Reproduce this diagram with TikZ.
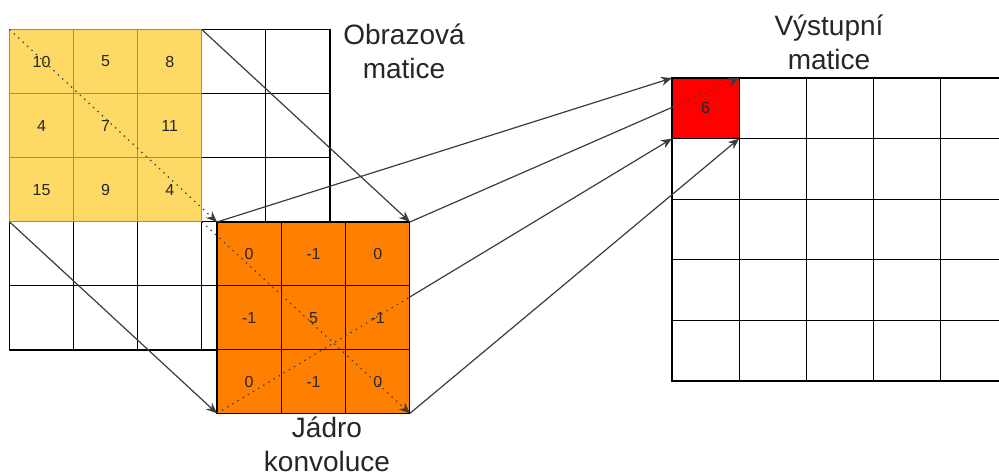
\documentclass[tikz,border=0pt]{standalone}
\usepackage{fontspec}
\setmainfont{Liberation Sans}
\usetikzlibrary{arrows.meta,calc}

\definecolor{cellyellow}{HTML}{FFD966}
\definecolor{yellowedge}{HTML}{A38F4E}
\definecolor{kernelorange}{HTML}{FF8000}
\definecolor{outred}{HTML}{FF0000}
\definecolor{textgray}{HTML}{262626}
\definecolor{linkgray}{HTML}{3C3C3C}

\tikzset{
  imgcell/.style={draw=black, line width=1.1pt, fill=white, inner sep=0pt, outer sep=0pt,
    minimum width=64.1pt, minimum height=64.1pt,
    font=\fontsize{16}{19}\selectfont, text=textgray},
  wincell/.style={imgcell, fill=cellyellow, draw=yellowedge},
  kercell/.style={imgcell, fill=kernelorange, minimum width=64.3pt, minimum height=63.8pt},
  outcell/.style={imgcell, minimum width=67.1pt, minimum height=60.6pt},
  hotcell/.style={outcell, fill=outred},
  caption/.style={font=\fontsize{28}{34}\selectfont, text=textgray, align=center, inner sep=0pt},
  plainlink/.style={draw=linkgray, line width=1.2pt},
  dotplain/.style={plainlink, dash pattern=on 1.4pt off 4.6pt},
  link/.style={plainlink, -{Stealth[length=11pt,width=9pt]}},
  dotlink/.style={link, dash pattern=on 1.4pt off 4.6pt},
}

\begin{document}
\begin{tikzpicture}[x=1pt, y=-1pt]
  \useasboundingbox (0,0) rectangle (999,475);

  % input image: plain cells outside the 3x3 window
  \foreach \r in {1,2,3}
    \foreach \c in {4,5}
      \node[imgcell] (img\r\c) at ({9.5+64.1*(\c-0.5)},{29.5+64.1*(\r-0.5)}) {};
  \foreach \r in {4,5}
    \foreach \c in {1,...,5}
      \node[imgcell] (img\r\c) at ({9.5+64.1*(\c-0.5)},{29.5+64.1*(\r-0.5)}) {};

  % the 3x3 window under the kernel
  \foreach \r/\c/\v in {1/1/10, 1/2/5, 1/3/8,
                        2/1/4,  2/2/7, 2/3/11,
                        3/1/15, 3/2/9, 3/3/4}
    \node[wincell] (win\r\c) at ({9.5+64.1*(\c-0.5)},{29.5+64.1*(\r-0.5)}) {\v};

  % convolution kernel
  \foreach \r/\c/\v in {1/1/0,  1/2/-1, 1/3/0,
                        2/1/-1, 2/2/5,  2/3/-1,
                        3/1/0,  3/2/-1, 3/3/0}
    \node[kercell] (ker\r\c) at ({217+64.3*(\c-0.5)},{222+63.8*(\r-0.5)}) {\v};

  % output matrix
  \foreach \r in {1,...,5}
    \foreach \c in {1,...,5}
      \node[outcell] (out\r\c) at ({672+67.1*(\c-0.5)},{78+60.6*(\r-0.5)}) {};
  \node[hotcell] (out11) at ({672+67.1*0.5},{78+60.6*0.5}) {6};

  % captions (anchor on the baseline of the second line)
  \node[caption, anchor=base] (capimg) at (404,78) {Obrazová\\matice};
  \node[caption, anchor=base] (capout) at (829,69) {Výstupní\\matice};
  \node[caption, anchor=base] (capker) at (327,471) {Jádro\\konvoluce};

  % window corners to kernel corners
  \draw[dotlink] (win11.north west) -- (ker11.north west);
  \draw[link]    (win13.north east) -- (ker13.north east);
  \draw[link]    (win31.south west) -- (ker31.south west);
  \draw[dotlink] (win33.south east) -- (ker33.south east);

  % kernel corners to the output cell corners
  \draw[link] (ker11.north west) -- (out11.north west);

  \coordinate (cutA) at (intersection of ker13.north east--out11.north east and out11.north west--out11.south west);
  \draw[plainlink] (ker13.north east) -- (cutA);
  \draw[dotlink]   (cutA) -- (out11.north east);

  \coordinate (cutB) at (intersection of ker31.south west--out11.south west and ker13.north east--ker33.south east);
  \draw[dotplain] (ker31.south west) -- (cutB);
  \draw[link]     (cutB) -- (out11.south west);

  \draw[link] (ker33.south east) -- (out11.south east);
\end{tikzpicture}
\end{document}
